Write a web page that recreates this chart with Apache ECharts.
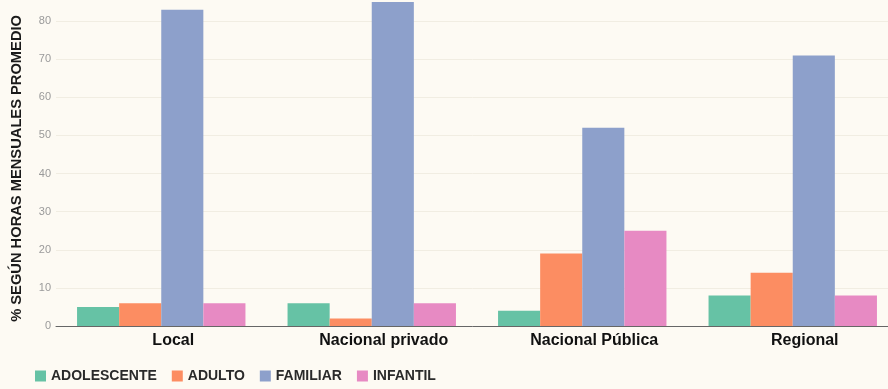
<!DOCTYPE html>
<html>
<head>
<meta charset="utf-8">
<script src="https://cdn.jsdelivr.net/npm/echarts@6/dist/echarts.min.js"></script>
<style>
  html, body { margin: 0; padding: 0; background: #fdfaf3; }
  #chart { width: 888px; height: 389px; }
</style>
</head>
<body>
<div id="chart"></div>
<script>
// Audience categories and the average monthly share of hours for each segment
const categories = ['Local', 'Nacional privado', 'Nacional Pública', 'Regional'];
const adolescente = [5, 6, 4, 8];
const adulto = [6, 2, 19, 14];
const familiar = [83, 85, 52, 71];
const infantil = [6, 6, 25, 8];
const yTicks = { min: 0, max: 90, interval: 10 };

const colors = ['#66c2a5', '#fc8d62', '#8da0cb', '#e78ac3'];
const font = '"Liberation Sans", Arial, sans-serif';

const chart = echarts.init(document.getElementById('chart'), null, { renderer: 'canvas' });

function bar(name, data) {
  return {
    name: name,
    type: 'bar',
    data: data,
    barGap: '0%',
    barCategoryGap: '20%',
    emphasis: { disabled: true }
  };
}

chart.setOption({
  backgroundColor: '#fdfaf3',
  color: colors,
  animation: false,
  textStyle: { fontFamily: font },
  grid: {
    left: 56, right: -10, top: -17, bottom: 63,
    containLabel: false,
    outerBoundsMode: 'none'
  },
  legend: {
    left: 30,
    bottom: 1,
    itemWidth: 11,
    itemHeight: 11,
    itemGap: 15,
    icon: 'rect',
    textStyle: { fontFamily: font, fontSize: 14, fontWeight: 'bold', color: '#2a2a2a' },
    data: ['ADOLESCENTE', 'ADULTO', 'FAMILIAR', 'INFANTIL']
  },
  xAxis: {
    type: 'category',
    data: categories,
    axisLine: { show: true, lineStyle: { color: '#666', width: 1 } },
    axisTick: { show: false },
    axisLabel: {
      fontFamily: font, fontSize: 16, fontWeight: 'bold', color: '#111',
      margin: 7, padding: [0, 0, 0, 24]
    },
    splitLine: { show: false }
  },
  yAxis: {
    type: 'value',
    min: yTicks.min,
    max: yTicks.max,
    interval: yTicks.interval,
    axisLine: { show: false },
    axisTick: { show: false },
    axisLabel: { fontFamily: font, fontSize: 11, color: '#9a9a9a', margin: 5 },
    splitLine: { show: true, lineStyle: { color: '#f1ede2', width: 1 } }
  },
  graphic: [{
    type: 'text',
    left: 9,
    top: 15,
    rotation: Math.PI / 2,
    style: {
      text: '% SEGÚN HORAS MENSUALES PROMEDIO',
      fontFamily: font,
      fontSize: 14.7,
      fontWeight: 'bold',
      fill: '#1a1a1a'
    }
  }],
  series: [
    bar('ADOLESCENTE', adolescente),
    bar('ADULTO', adulto),
    bar('FAMILIAR', familiar),
    bar('INFANTIL', infantil)
  ]
});
</script>
</body>
</html>
